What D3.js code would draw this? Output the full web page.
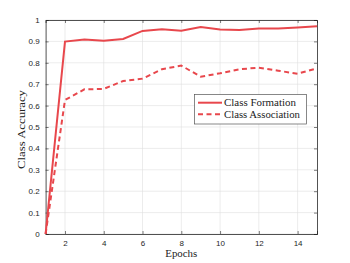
<!DOCTYPE html>
<html><head><meta charset="utf-8">
<script src="https://cdn.jsdelivr.net/npm/d3@7"></script>
<style>body{margin:0;background:#fff}</style>
</head><body>
<svg id="c" width="350" height="263"></svg>
<script>
const epochs = [1,2,3,4,5,6,7,8,9,10,11,12,13,14,15];
const formation = [0,0.899,0.909,0.903,0.911,0.949,0.957,0.950,0.967,0.956,0.953,0.960,0.960,0.965,0.971];
const association = [0,0.626,0.676,0.678,0.715,0.726,0.770,0.787,0.735,0.751,0.770,0.777,0.763,0.749,0.774];
const xTicks = [2,4,6,8,10,12,14];
const yTicks = [0,0.1,0.2,0.3,0.4,0.5,0.6,0.7,0.8,0.9,1];
const seriesNames = ["Class Formation","Class Association"];

const m = {l:45.6, r:317, t:20, b:234};
const svg = d3.select("#c");
const x = d3.scaleLinear().domain([1,15]).range([m.l,m.r]);
const y = d3.scaleLinear().domain([0,1]).range([m.b,m.t]);
const red = "#e8474c", axc = "#262626";

// grid
const g = svg.append("g");
g.selectAll(".gx").data(xTicks).enter().append("line")
  .attr("x1",d=>x(d)).attr("x2",d=>x(d)).attr("y1",m.t).attr("y2",m.b)
  .attr("stroke","#dfdfdf").attr("stroke-width",0.6);
g.selectAll(".gy").data(yTicks).enter().append("line")
  .attr("y1",d=>y(d)).attr("y2",d=>y(d)).attr("x1",m.l).attr("x2",m.r)
  .attr("stroke","#dfdfdf").attr("stroke-width",0.6);

// axes
const fontT = "Liberation Sans, Arial, sans-serif";
const ax = svg.append("g").attr("transform",`translate(0,${m.b})`)
  .call(d3.axisBottom(x).tickValues(xTicks).tickSize(-3).tickPadding(6).tickFormat(d3.format("d")));
const axT = svg.append("g").attr("transform",`translate(0,${m.t})`)
  .call(d3.axisTop(x).tickValues(xTicks).tickSize(-3).tickFormat(""));
const ay = svg.append("g").attr("transform",`translate(${m.l},0)`)
  .call(d3.axisLeft(y).tickValues(yTicks).tickSize(-3).tickPadding(6).tickFormat(d=>d===0||d===1?d3.format("d")(d):d3.format(".1f")(d)));
const ayR = svg.append("g").attr("transform",`translate(${m.r},0)`)
  .call(d3.axisRight(y).tickValues(yTicks).tickSize(-3).tickFormat(""));
[ax,axT,ay,ayR].forEach(a=>{
  a.select(".domain").attr("stroke",axc).attr("stroke-width",0.8);
  a.selectAll(".tick line").attr("stroke",axc).attr("stroke-width",0.6);
  a.selectAll("text").attr("fill",axc).style("font-family",fontT).style("font-size","8px");
});

// lines
const line = d3.line().x((d,i)=>x(epochs[i])).y(d=>y(d));
svg.append("path").datum(formation).attr("d",line).attr("fill","none")
  .attr("stroke",red).attr("stroke-width",2);
svg.append("path").datum(association).attr("d",line).attr("fill","none")
  .attr("stroke",red).attr("stroke-width",2).attr("stroke-dasharray","5,3.5");

// labels
const fontS = "Liberation Serif, serif";
svg.append("text").attr("x",(m.l+m.r)/2).attr("y",257).attr("text-anchor","middle")
  .attr("textLength",32).attr("lengthAdjust","spacingAndGlyphs")
  .style("font-family",fontS).style("font-size","10.5px").attr("fill","#222").text("Epochs");
svg.append("text").attr("transform",`translate(24.5,129.5) rotate(-90)`).attr("text-anchor","middle")
  .attr("textLength",79).attr("lengthAdjust","spacingAndGlyphs")
  .style("font-family",fontS).style("font-size","10.5px").attr("fill","#222").text("Class Accuracy");

// legend
const lg = svg.append("g");
lg.append("rect").attr("x",194.5).attr("y",94.5).attr("width",112).attr("height",29.5)
  .attr("fill","#fff").attr("stroke","#555").attr("stroke-width",0.7);
const legW = [72,76];
seriesNames.forEach((n,i)=>{
  const yy = 102.7 + i*11.5;
  lg.append("line").attr("x1",198).attr("x2",222).attr("y1",yy).attr("y2",yy)
    .attr("stroke",red).attr("stroke-width",2).attr("stroke-dasharray",i?"5,3.5":null);
  lg.append("text").attr("x",224).attr("y",yy+3.5).style("font-family",fontS)
    .attr("textLength",legW[i]).attr("lengthAdjust","spacingAndGlyphs")
    .style("font-size","10.5px").attr("fill","#222").text(n);
});
</script>
</body></html>
